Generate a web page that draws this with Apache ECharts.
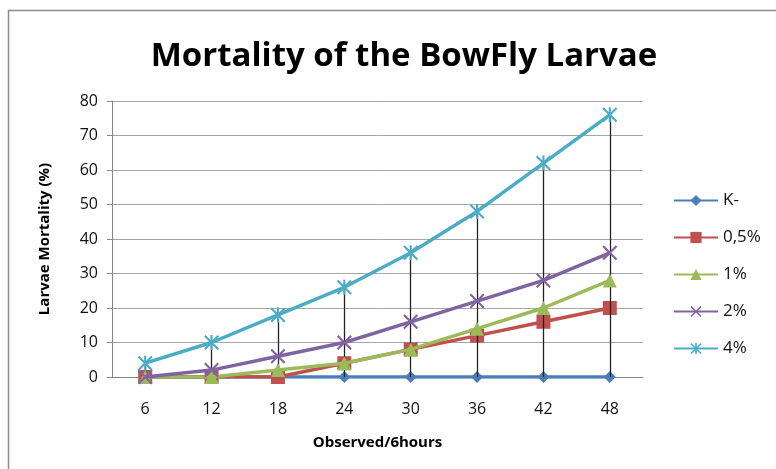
<!DOCTYPE html>
<html>
<head>
<meta charset="UTF-8">
<title>Mortality of the BowFly Larvae</title>
<script src="https://cdn.jsdelivr.net/npm/echarts@6/dist/echarts.min.js"></script>
<style>
  html, body { margin: 0; padding: 0; background: #fff; }
  #chart { width: 776px; height: 469px; }
</style>
</head>
<body>
<div id="chart"></div>
<script type="text/javascript">
// data
var hours = ['6', '12', '18', '24', '30', '36', '42', '48'];
var kMinus = [0, 0, 0, 0, 0, 0, 0, 0];
var half = [0, 0, 0, 4, 8, 12, 16, 20];
var one = [0, 0, 2, 4, 8, 14, 20, 28];
var two = [0, 2, 6, 10, 16, 22, 28, 36];
var four = [4, 10, 18, 26, 36, 48, 62, 76];

var names = ['K-', '0,5%', '1%', '2%', '4%'];
var colors = ['#4a7ebb', '#c0504d', '#9bbb59', '#8064a2', '#4bacc6'];
var xMark = 'path://M1,0 L5,4 L9,0 L10,1 L6,5 L10,9 L9,10 L5,6 L1,10 L0,9 L4,5 L0,1 Z';
var starMark = xMark + ' M4.3,0 L5.7,0 L5.7,10 L4.3,10 Z';
var symbols = ['diamond', 'rect', 'triangle', xMark, starMark];
var sizes = [12, 14, 14, 15, 15];
var allSeries = [kMinus, half, one, two, four];

// high-low (drop) lines between the top and bottom series at each category
var dropLines = hours.map(function (h, i) {
  var vals = allSeries.map(function (s) { return s[i]; });
  return [
    { xAxis: i, yAxis: Math.max.apply(null, vals) },
    { xAxis: i, yAxis: Math.min.apply(null, vals) }
  ];
});

var chart = echarts.init(document.getElementById('chart'));
var series = allSeries.map(function (d, k) {
  return {
    name: names[k],
    type: 'line',
    data: d,
    symbol: symbols[k],
    symbolSize: sizes[k],
    z: 3 + k,
    lineStyle: { color: colors[k], width: 3.5 },
    itemStyle: { color: colors[k] },
    emphasis: { disabled: true }
  };
});
series[0].markLine = {
  silent: true,
  symbol: 'none',
  label: { show: false },
  lineStyle: { color: '#222', width: 1.3, type: 'solid' },
  data: dropLines
};
series[0].z = 2;

chart.setOption({
  animation: false,
  graphic: [{
    type: 'rect',
    shape: { x: 8.5, y: 10.5, width: 800, height: 500 },
    style: { fill: 'none', stroke: '#8c8c8c', lineWidth: 1.5 },
    silent: true
  }],
  title: {
    text: 'Mortality of the BowFly Larvae',
    left: 399,
    textAlign: 'center',
    top: 35,
    textStyle: { fontFamily: 'Open Sans', fontSize: 33, fontWeight: 'bold', color: '#000' }
  },
  legend: {
    orient: 'vertical',
    left: 668,
    top: 187,
    itemWidth: 44,
    itemHeight: 14,
    itemGap: 20,
    data: names,
    textStyle: { fontFamily: 'Open Sans', fontSize: 17, color: '#111' }
  },
  grid: { left: 112, right: 133, top: 101, bottom: 92 },
  xAxis: {
    type: 'category',
    data: hours,
    name: 'Observed/6hours',
    nameLocation: 'middle',
    nameGap: 58,
    nameTextStyle: { fontFamily: 'Open Sans', fontSize: 15, fontWeight: 'bold', color: '#000' },
    axisLine: { lineStyle: { color: '#868686', width: 1 } },
    axisTick: { show: false },
    axisLabel: { fontFamily: 'Open Sans', fontSize: 16, color: '#111', margin: 24 }
  },
  yAxis: {
    type: 'value',
    min: 0,
    max: 80,
    interval: 10,
    name: 'Larvae Mortality (%)',
    nameLocation: 'middle',
    nameGap: 60,
    nameTextStyle: { fontFamily: 'Open Sans', fontSize: 15, fontWeight: 'bold', color: '#000' },
    axisLine: { show: true, lineStyle: { color: '#868686', width: 1 } },
    axisTick: { show: true, length: 5, lineStyle: { color: '#868686' } },
    axisLabel: { fontFamily: 'Open Sans', fontSize: 16, color: '#111', margin: 14 },
    splitLine: { lineStyle: { color: '#a6a6a6', width: 1 } }
  },
  series: series
});
</script>
</body>
</html>
